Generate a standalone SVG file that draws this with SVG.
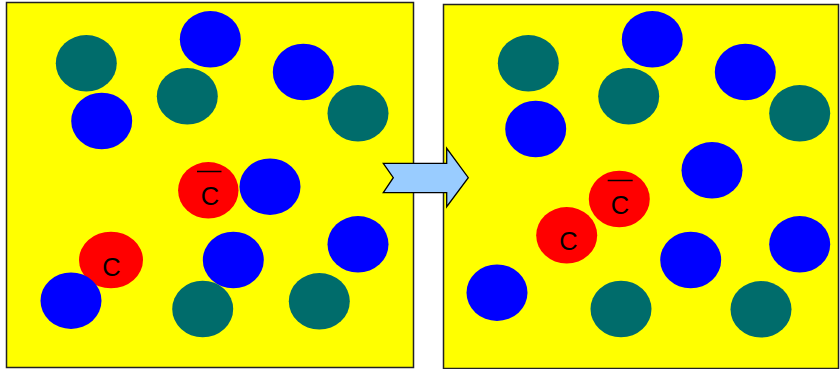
<svg xmlns="http://www.w3.org/2000/svg" width="840" height="369" viewBox="0 0 840 369">
<style>
.box{fill:#FFFF00;stroke:#222;stroke-width:1.5}
.t{fill:#006C6B}
.b{fill:#0000FF}
.r{fill:#FF0000}
.lbl{font-family:"Liberation Sans",Arial,sans-serif;font-size:25.5px;fill:#000;text-anchor:middle}
.bar{stroke:#000;stroke-width:1.5}
.arrow{fill:#99CCFF;stroke:#000;stroke-width:1.3;stroke-linejoin:miter}
</style>
<rect width="840" height="369" fill="#fff"/>
<g id="left-box">
<rect class="box" x="6.5" y="2.5" width="407" height="365"/>
<ellipse class="t" cx="86.3" cy="63.3" rx="30.5" ry="28.3"/>
<ellipse class="b" cx="210.3" cy="39.3" rx="30.5" ry="28.3"/>
<ellipse class="t" cx="187.3" cy="96.3" rx="30.5" ry="28.3"/>
<ellipse class="b" cx="101.7" cy="121" rx="30.5" ry="28.3"/>
<ellipse class="b" cx="303.3" cy="72" rx="30.5" ry="28.3"/>
<ellipse class="t" cx="358" cy="113.3" rx="30.5" ry="28.3"/>
<ellipse class="b" cx="270" cy="186.7" rx="30.5" ry="28.3"/>
<ellipse class="b" cx="233.3" cy="260" rx="30.5" ry="28.3"/>
<ellipse class="b" cx="358" cy="244.3" rx="30.5" ry="28.3"/>
<ellipse class="t" cx="202.7" cy="309" rx="30.5" ry="28.3"/>
<ellipse class="t" cx="319.3" cy="301.3" rx="30.5" ry="28.3"/>
<ellipse class="r" cx="111" cy="260" rx="32" ry="28.3"/>
<ellipse class="b" cx="71" cy="300.7" rx="30.5" ry="28.3"/>
</g>
<g id="left-cbar">
<ellipse class="r" cx="208.3" cy="190.3" rx="30.2" ry="28.3"/>
<line class="bar" x1="197" y1="171.5" x2="221.5" y2="171.5"/>
<text class="lbl" x="210" y="205">C</text>
</g>
<g id="left-c">
<text class="lbl" x="111.5" y="276">C</text>
</g>
<g id="right-box">
<rect class="box" x="443.5" y="4.5" width="395" height="364"/>
<ellipse class="t" cx="528.3" cy="63.3" rx="30.5" ry="28.3"/>
<ellipse class="b" cx="652.3" cy="39.3" rx="30.5" ry="28.3"/>
<ellipse class="t" cx="628.7" cy="96.3" rx="30.5" ry="28.3"/>
<ellipse class="b" cx="535.7" cy="129" rx="30.5" ry="28.3"/>
<ellipse class="b" cx="745.3" cy="72" rx="30.5" ry="28.3"/>
<ellipse class="t" cx="799.7" cy="113.3" rx="30.5" ry="28.3"/>
<ellipse class="b" cx="712" cy="170.3" rx="30.5" ry="28.3"/>
<ellipse class="b" cx="497" cy="292.7" rx="30.5" ry="28.3"/>
<ellipse class="b" cx="690.7" cy="260" rx="30.5" ry="28.3"/>
<ellipse class="b" cx="799.7" cy="244.3" rx="30.5" ry="28.3"/>
<ellipse class="t" cx="621" cy="309" rx="30.5" ry="28.3"/>
<ellipse class="t" cx="761" cy="309.3" rx="30.5" ry="28.3"/>
</g>
<g id="right-cbar">
<ellipse class="r" cx="619.3" cy="199" rx="30.5" ry="28.3"/>
<line class="bar" x1="607.7" y1="180.5" x2="632.7" y2="180.5"/>
<text class="lbl" x="620" y="213.5">C</text>
</g>
<g id="right-c">
<ellipse class="r" cx="566.7" cy="235.3" rx="30.5" ry="28.3"/>
<text class="lbl" x="568.5" y="250">C</text>
</g>
<g id="connectors">
<polygon class="arrow" points="383.3,163.3 446.7,163.3 446.7,148.3 468.3,177.7 446.7,206.7 446.7,192.7 383.3,192.7 393.3,177.7"/>
</g>
</svg>
